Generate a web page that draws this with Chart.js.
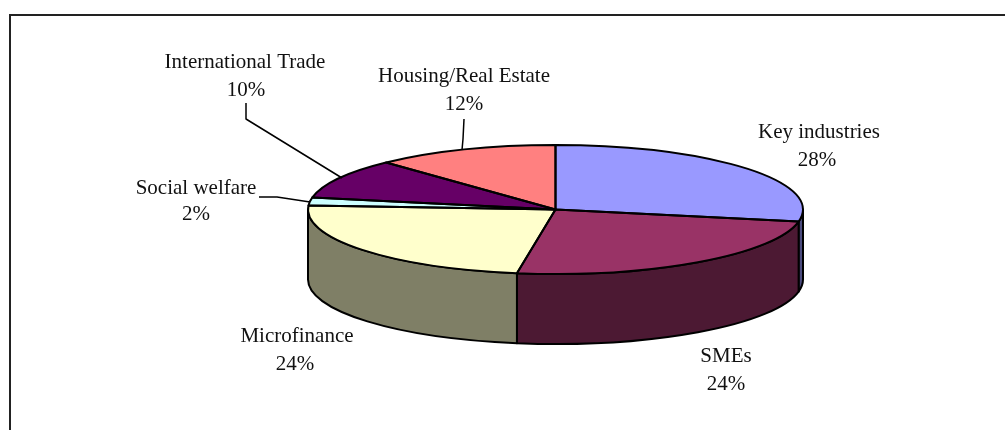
<!DOCTYPE html>
<html>
<head>
<meta charset="utf-8">
<style>
html,body{margin:0;padding:0;background:#fff;overflow:hidden}
canvas{display:block}
</style>
<script src="https://cdn.jsdelivr.net/npm/chart.js@4"></script>
</head>
<body>
<canvas id="c" width="1005" height="430" style="width:1005px;height:430px"></canvas>
<script>
const categories = ['Key industries','SMEs','Microfinance','Social welfare','International Trade','Housing/Real Estate'];
const shares = [28,24.49,23.51,2,10,12];
const topColors = ['#9999FF','#993366','#FFFFCC','#CCFFFF','#660066','#FF8080'];
const wallColors = ['#4C4C7F','#4C1933','#7F7F66','#668080','#330033','#804040'];

const PIE = {cx:555.5, cy:209.5, rx:247.5, ry:64.5, depth:70};
const FONT = '21px "Liberation Serif"';
const labelLayout = [
  {x:819, y:138, px:817, py:166},
  {x:726, y:362, px:726, py:390},
  {x:297, y:342, px:295, py:370},
  {x:196, y:194, px:196, py:220},
  {x:245, y:68,  px:246, py:96},
  {x:464, y:82,  px:464, py:110}
];
const leaders = [
  [[259,197],[277,197],[310,202]],
  [[246,103],[246,119],[342,178]],
  [[464,119],[463,139],[462,150]]
];

const pie3d = {
  id:'pie3d',
  beforeDraw(chart){
    const c = chart.ctx;
    c.save();
    c.fillStyle = '#fff';
    c.fillRect(0,0,chart.width,chart.height);
    c.strokeStyle = '#222';
    c.lineWidth = 2;
    c.beginPath();
    c.moveTo(10,430); c.lineTo(10,15); c.lineTo(1005,15);
    c.stroke();
    c.restore();
  },
  beforeDatasetsDraw(chart){
    const c = chart.ctx, P = PIE;
    const arcs = chart.getDatasetMeta(0).data;
    c.save();
    c.lineWidth = 2; c.strokeStyle = '#000'; c.lineJoin = 'round';
    arcs.forEach((a,i)=>{
      const s = Math.max(a.startAngle,0), e = Math.min(a.endAngle,Math.PI);
      if (e <= s) return;
      c.beginPath();
      c.ellipse(P.cx,P.cy,P.rx,P.ry,0,s,e);
      c.ellipse(P.cx,P.cy+P.depth,P.rx,P.ry,0,e,s,true);
      c.closePath();
      c.fillStyle = wallColors[i];
      c.fill(); c.stroke();
    });
    c.restore();
  },
  beforeDatasetDraw(chart){
    const c = chart.ctx, a = chart.getDatasetMeta(0).data[0];
    c.save();
    c.translate(PIE.cx,PIE.cy);
    c.scale(PIE.rx/a.outerRadius, PIE.ry/a.outerRadius);
    c.translate(-a.x,-a.y);
  },
  afterDatasetDraw(chart){
    const c = chart.ctx, P = PIE;
    c.restore();
    c.save();
    c.lineWidth = 2; c.strokeStyle = '#000'; c.lineJoin = 'round';
    chart.getDatasetMeta(0).data.forEach(a=>{
      c.beginPath();
      c.moveTo(P.cx,P.cy);
      c.ellipse(P.cx,P.cy,P.rx,P.ry,0,a.startAngle,a.endAngle);
      c.closePath();
      c.stroke();
    });
    c.restore();
  },
  afterDraw(chart){
    const c = chart.ctx;
    c.save();
    c.strokeStyle = '#000'; c.lineWidth = 1.5; c.lineJoin = 'round';
    leaders.forEach(l=>{
      c.beginPath();
      l.forEach((p,i)=> i ? c.lineTo(p[0],p[1]) : c.moveTo(p[0],p[1]));
      c.stroke();
    });
    c.fillStyle = '#111'; c.font = FONT; c.textAlign = 'center'; c.textBaseline = 'alphabetic';
    categories.forEach((name,i)=>{
      const L = labelLayout[i];
      c.fillText(name, L.x, L.y);
      c.fillText(Math.round(shares[i])+'%', L.px, L.py);
    });
    c.restore();
  }
};

new Chart(document.getElementById('c'),{
  type:'pie',
  data:{labels:categories,datasets:[{data:shares,backgroundColor:topColors,borderWidth:0,clip:false}]},
  options:{
    responsive:false,animation:false,
    layout:{padding:0},
    plugins:{legend:{display:false},tooltip:{enabled:false}}
  },
  plugins:[pie3d]
});
</script>
</body>
</html>
